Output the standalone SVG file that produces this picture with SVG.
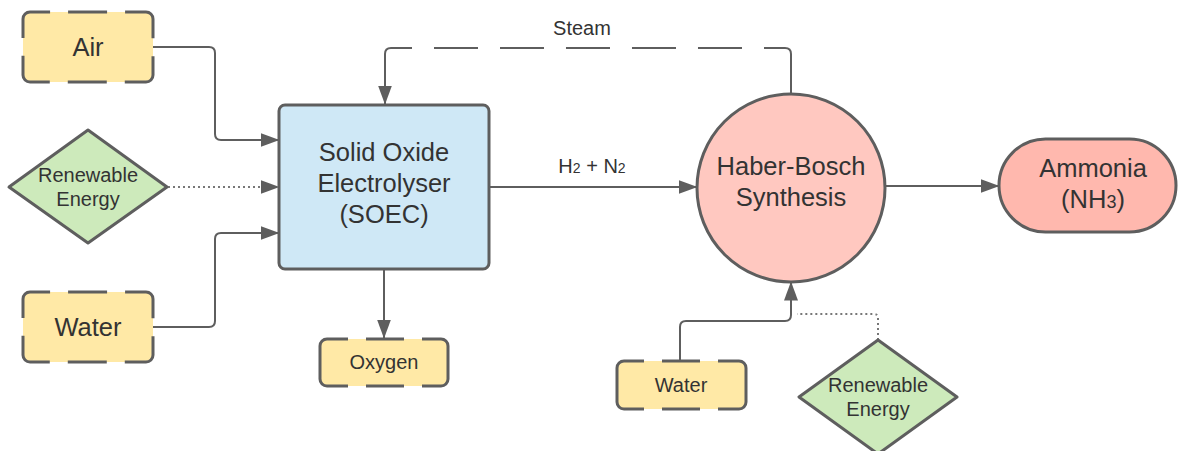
<svg xmlns="http://www.w3.org/2000/svg" width="1181" height="451" viewBox="0 0 1181 451">
<style>
text{font-family:"Liberation Sans",Arial,sans-serif;fill:#333;text-anchor:middle}
.t26{font-size:25.5px}.t20{font-size:20px}
.yf{fill:#FFE9A6}
.yb{fill:none;stroke:#5E5E5E;stroke-width:3}
.sh{stroke:#5E5E5E;stroke-width:3}
.c{fill:none;stroke:#5E5E5E;stroke-width:2;stroke-linejoin:round}
.dot{stroke-dasharray:2 3;stroke:#777}
</style>
<defs>
<marker id="ah" viewBox="0 0 19 14" refX="18.5" refY="7" markerWidth="19" markerHeight="14" markerUnits="userSpaceOnUse" orient="auto">
<path d="M0,0 L19,7 L0,14 z" fill="#5E5E5E"/>
</marker>
</defs>
<g id="connectors">
<path class="c" d="M153,47 H209 Q215,47 215,53 V134 Q215,140 221,140 H279" marker-end="url(#ah)"/>
<path class="c dot" d="M168,187 H279" marker-end="url(#ah)"/>
<path class="c" d="M153,327 H209 Q215,327 215,321 V239 Q215,233 221,233 H279" marker-end="url(#ah)"/>
<path class="c" d="M384,269 V338" marker-end="url(#ah)"/>
<path class="c" stroke-dasharray="71.5 22 44 22 44 22 44 22 44 22 44 22 200" d="M791,95 V54 Q791,48 785,48 H391 Q385,48 385,54 V104" marker-end="url(#ah)"/>
<path class="c" d="M489,187 H697" marker-end="url(#ah)"/>
<path class="c" d="M885,186 H999" marker-end="url(#ah)"/>
<path class="c" d="M680,361 V327 Q680,321 686,321 H785 Q791,321 791,315 V282" marker-end="url(#ah)"/>
<path class="c dot" d="M878,340 V318 Q878,314 874,314 H797"/>
<text class="t20" x="582" y="35">Steam</text>
<text class="t20" x="592" y="173">H<tspan font-size="14">2</tspan> + N<tspan font-size="14">2</tspan></text>
</g>
<g id="air">
<rect class="yf" x="23" y="12" width="130" height="70" rx="7"/>
<path class="yb" stroke-dasharray="50 18 39 18 51 18 51 18 39 18 50 18" d="M23,38 V19 A7,7 0 0 1 30,12 H146 A7,7 0 0 1 153,19 V75 A7,7 0 0 1 146,82 H30 A7,7 0 0 1 23,75 Z"/>
<text class="t26" x="88" y="56">Air</text>
</g>
<g id="renewable1">
<path class="sh" fill="#CDEABB" stroke-linejoin="round" d="M88,130 L167,187 L88,243 L9,187 Z"/>
<text class="t20" x="88" y="182">Renewable</text>
<text class="t20" x="88" y="206">Energy</text>
</g>
<g id="water1">
<rect class="yf" x="23" y="292" width="130" height="70" rx="7"/>
<path class="yb" stroke-dasharray="50 18 39 18 51 18 51 18 39 18 50 18" d="M23,318 V299 A7,7 0 0 1 30,292 H146 A7,7 0 0 1 153,299 V355 A7,7 0 0 1 146,362 H30 A7,7 0 0 1 23,355 Z"/>
<text class="t26" x="88" y="336">Water</text>
</g>
<g id="soec">
<rect class="sh" fill="#CFE8F6" x="279" y="105" width="210" height="164" rx="6"/>
<text class="t26" x="384" y="161">Solid Oxide</text>
<text class="t26" x="384" y="192">Electrolyser</text>
<text class="t26" x="384" y="223">(SOEC)</text>
</g>
<g id="oxygen">
<rect class="yf" x="320" y="339" width="128" height="47" rx="7"/>
<path class="yb" d="M348,339 H327 A7,7 0 0 0 320,346 V379 A7,7 0 0 0 327,386 H348 M366,339 H404 M366,386 H404 M422,339 H441 A7,7 0 0 1 448,346 V379 A7,7 0 0 1 441,386 H422"/>
<text class="t20" x="384" y="369">Oxygen</text>
</g>
<g id="haber">
<circle class="sh" fill="#FFC8C0" cx="791" cy="188" r="94"/>
<text class="t26" x="791" y="175">Haber-Bosch</text>
<text class="t26" x="791" y="206">Synthesis</text>
</g>
<g id="ammonia">
<rect class="sh" fill="#FFB8AE" x="999" y="139" width="177" height="93" rx="46.5"/>
<text class="t26" x="1093" y="177">Ammonia</text>
<text class="t26" x="1093" y="208">(NH<tspan font-size="18">3</tspan>)</text>
</g>
<g id="water2">
<rect class="yf" x="617" y="361" width="129" height="48" rx="7"/>
<path class="yb" d="M644,361 H624 A7,7 0 0 0 617,368 V402 A7,7 0 0 0 624,409 H644 M662,361 H700 M662,409 H700 M718,361 H739 A7,7 0 0 1 746,368 V402 A7,7 0 0 1 739,409 H718"/>
<text class="t20" x="681" y="392">Water</text>
</g>
<g id="renewable2">
<path class="sh" fill="#CDEABB" stroke-linejoin="round" d="M878,340 L957,397 L878,454 L799,397 Z"/>
<text class="t20" x="878" y="392">Renewable</text>
<text class="t20" x="878" y="416">Energy</text>
</g>
</svg>
